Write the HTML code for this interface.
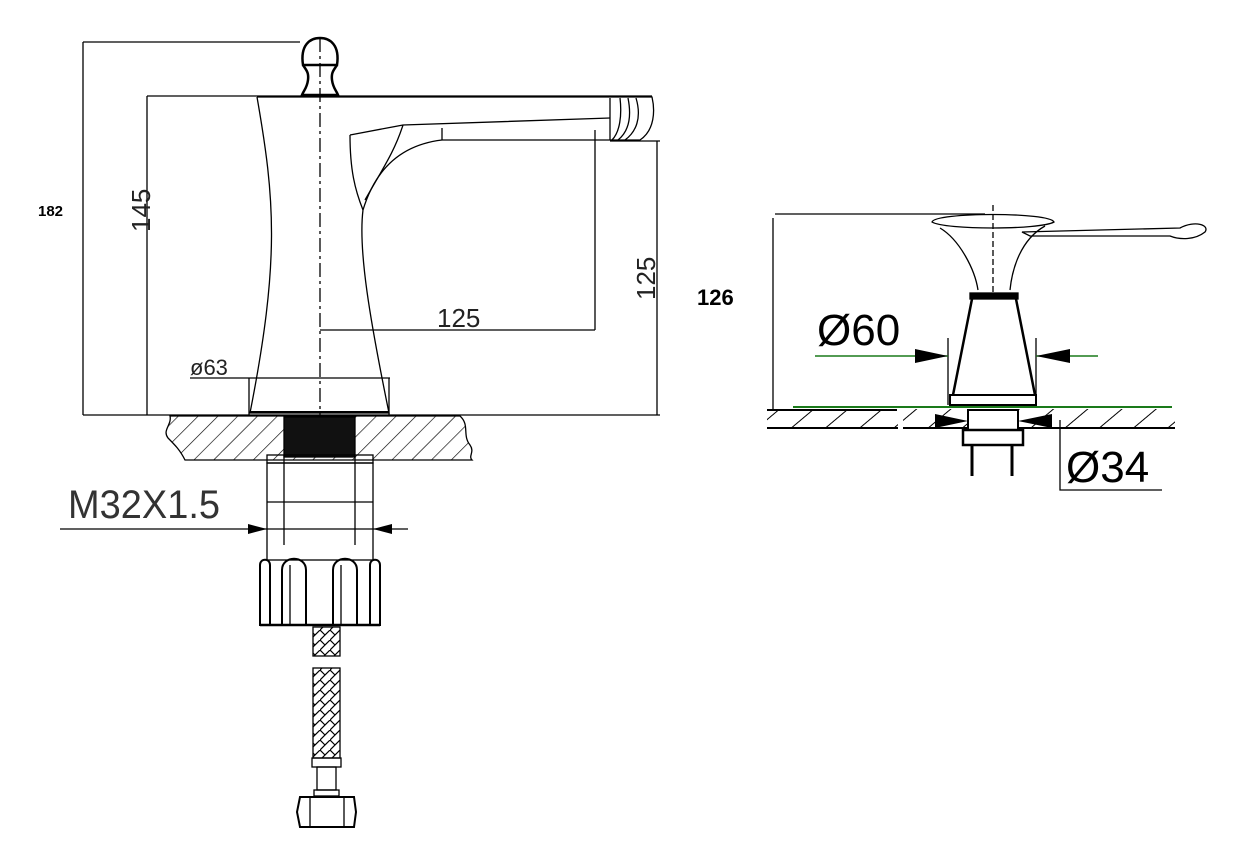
<!DOCTYPE html>
<html><head><meta charset="utf-8"><style>
html,body{margin:0;padding:0;background:#fff;}
svg{display:block;}
text{font-family:"Liberation Sans",sans-serif;}
</style></head><body>
<svg width="1250" height="865" viewBox="0 0 1250 865" xmlns="http://www.w3.org/2000/svg">
<defs>
<pattern id="hatch" width="14" height="14" patternUnits="userSpaceOnUse" patternTransform="rotate(45)">
<rect width="14" height="14" fill="#fff"/><line x1="0" y1="0" x2="0" y2="14" stroke="#000" stroke-width="1.3"/>
</pattern>
<pattern id="hatch2" width="22" height="22" patternUnits="userSpaceOnUse" patternTransform="rotate(50)">
<rect width="22" height="22" fill="#fff"/><line x1="0" y1="0" x2="0" y2="22" stroke="#000" stroke-width="2"/>
</pattern>
<pattern id="braid" width="10" height="10" patternUnits="userSpaceOnUse">
<rect width="10" height="10" fill="#fff"/><path d="M0 10 L10 0 M0 0 L5 5" stroke="#000" stroke-width="1.2"/>
</pattern>
</defs>
<g fill="none" stroke="#000" stroke-width="1.3">
<!-- dimension frame left -->
<line x1="83" y1="42" x2="300" y2="42"/>
<line x1="83" y1="42" x2="83" y2="415"/>
<line x1="83" y1="415" x2="660" y2="415"/>
<line x1="147" y1="96" x2="147" y2="415"/>
<line x1="147" y1="96" x2="652" y2="96"/>
<line x1="657" y1="141" x2="657" y2="415"/>
<line x1="610" y1="141" x2="660" y2="141"/>
<line x1="320" y1="330" x2="595" y2="330"/>
<line x1="595" y1="130" x2="595" y2="330"/>
<line x1="320" y1="38" x2="320" y2="415" stroke-dasharray="14,4,3,4"/>
<!-- cap -->
<path d="M303 65 C300 45 310 38 320 38 C330 38 340 45 337 65 Z" stroke-width="2.5"/>
<path d="M303 65 C306 70 309 72 308 80 C307 88 304 90 302 95 L338 95 C336 90 333 88 332 80 C331 72 334 70 337 65" stroke-width="2.5"/>
<!-- body -->
<path d="M257 97 C275 200 280 260 250 413 L389 413 C370 320 358 250 363 210" />
<path d="M257 97 L383 97"/>
<!-- spout -->
<path d="M383 97 L652 97 C655 110 655 130 640 140 L442 140 C400 145 375 170 363 210"/>
<path d="M350 135 L403 125 L610 118"/>
<path d="M350 135 C350 170 355 190 363 210"/>
<path d="M403 125 C395 150 385 165 365 200"/>
<line x1="442" y1="128" x2="442" y2="140"/>
<path d="M610 98 L610 140 M620 98 C622 115 620 132 612 140 M628 98 C632 118 628 132 618 140 M636 98 C642 118 636 132 625 140"/>
<!-- ø63 -->
<line x1="190" y1="378" x2="390" y2="378"/>
<line x1="249" y1="378" x2="249" y2="415"/>
<line x1="389" y1="378" x2="389" y2="415"/>
<line x1="250" y1="412" x2="389" y2="412" stroke-width="2"/>
<!-- countertop -->
<path d="M170 416 L460 416 C470 425 462 435 470 445 C475 452 468 456 472 460 L185 460 C180 450 175 445 168 438 C162 430 172 425 170 416 Z" fill="url(#hatch)"/>
<rect x="284" y="417" width="71" height="40" fill="#111"/>
<!-- shank -->
<rect x="267" y="455" width="106" height="8"/>
<rect x="267" y="463" width="106" height="97"/>
<line x1="267" y1="502" x2="373" y2="502"/>
<line x1="284" y1="455" x2="284" y2="545"/>
<line x1="355" y1="455" x2="355" y2="545"/>
<!-- M32 dimension -->
<line x1="60" y1="529" x2="408" y2="529"/>
<!-- nut -->
<path d="M260 565 C260 558 270 558 270 565 L270 625 L260 625 Z" stroke-width="2"/>
<path d="M370 565 C370 558 380 558 380 565 L380 625 L370 625 Z" stroke-width="2"/>
<path d="M282 570 C282 555 306 555 306 570 L306 625 L282 625 Z" stroke-width="2"/>
<path d="M333 570 C333 555 357 555 357 570 L357 625 L333 625 Z" stroke-width="2"/>
<line x1="260" y1="625" x2="380" y2="625" stroke-width="2.5"/>
<line x1="290" y1="565" x2="290" y2="625"/><line x1="341" y1="565" x2="341" y2="625"/>
<!-- hose -->
<rect x="313" y="627" width="27" height="29" fill="url(#braid)"/>
<rect x="313" y="668" width="27" height="90" fill="url(#braid)"/>
<rect x="312" y="758" width="29" height="9"/>
<rect x="317" y="767" width="19" height="23"/>
<rect x="314" y="790" width="25" height="6"/>
<path d="M300 797 L354 797 L356 812 L354 827 L300 827 L297 812 Z" stroke-width="2"/>
<line x1="310" y1="797" x2="310" y2="827"/><line x1="344" y1="797" x2="344" y2="827"/>

<!-- right drawing -->
<line x1="775" y1="214" x2="985" y2="214"/>
<line x1="773" y1="218" x2="773" y2="410"/>
<path d="M932 222 C935 212 1050 212 1054 222 C1040 230 945 230 932 222 Z"/>
<path d="M1022 232 L1180 228 C1195 220 1210 225 1205 232 C1195 240 1180 240 1170 236 L1030 236 Z"/>
<path d="M940 228 C960 240 975 270 978 290"/>
<path d="M1045 226 C1020 240 1012 270 1010 290"/>
<line x1="993" y1="205" x2="993" y2="295" stroke-dasharray="6,3"/>
<rect x="970" y="293" width="48" height="6" fill="#000"/>
<path d="M972 299 L953 395 M1016 299 L1035 395" stroke-width="2.5"/>
<rect x="950" y="395" width="86" height="10" stroke-width="2"/>
<line x1="948" y1="338" x2="948" y2="405"/>
<line x1="1036" y1="338" x2="1036" y2="405"/>
<line x1="815" y1="356" x2="948" y2="356" stroke="#1a7a1a" stroke-width="1.5"/>
<line x1="1036" y1="356" x2="1098" y2="356" stroke="#1a7a1a" stroke-width="1.5"/>
<rect x="767" y="409" width="408" height="20" fill="url(#hatch2)" stroke="none"/>
<line x1="793" y1="407" x2="1172" y2="407" stroke="#1a7a1a" stroke-width="2"/>
<line x1="767" y1="428" x2="1175" y2="428" stroke-width="2"/>
<line x1="767" y1="410" x2="897" y2="410" stroke-width="2"/>
<rect x="898" y="409" width="5" height="20" fill="#fff" stroke="none"/>
<rect x="968" y="410" width="50" height="20" fill="#fff" stroke-width="2"/>
<rect x="963" y="430" width="60" height="15" stroke-width="2.5"/>
<line x1="972" y1="445" x2="972" y2="476" stroke-width="3"/>
<line x1="1012" y1="445" x2="1012" y2="476" stroke-width="3"/>
<polyline points="1060,420 1060,490 1162,490"/>
</g>
<g fill="#000">
<polygon points="267,529 248,524 248,534"/>
<polygon points="373,529 392,524 392,534"/>
<polygon points="948,356 915,349 915,363"/>
<polygon points="1036,356 1070,349 1070,363"/>
<polygon points="968,421 935,414 935,428"/>
<polygon points="1018,421 1052,414 1052,428"/>
</g>
<text x="38" y="216" font-size="15" font-weight="bold">182</text>
<text x="697" y="305" font-size="22" font-weight="bold">126</text>
<text transform="translate(150,232) rotate(-90)" font-size="26" font-weight="300" fill="#222">145</text>
<text transform="translate(655,300) rotate(-90)" font-size="26" fill="#222">125</text>
<text x="437" y="327" font-size="26" fill="#222">125</text>
<text x="190" y="375" font-size="22" fill="#222">ø63</text>
<text x="68" y="518" font-size="40" fill="#333" textLength="152" lengthAdjust="spacingAndGlyphs">M32X1.5</text>
<text x="817" y="345" font-size="44" fill="#000">Ø60</text>
<text x="1066" y="482" font-size="44" fill="#000">Ø34</text>
</svg>
</body></html>
